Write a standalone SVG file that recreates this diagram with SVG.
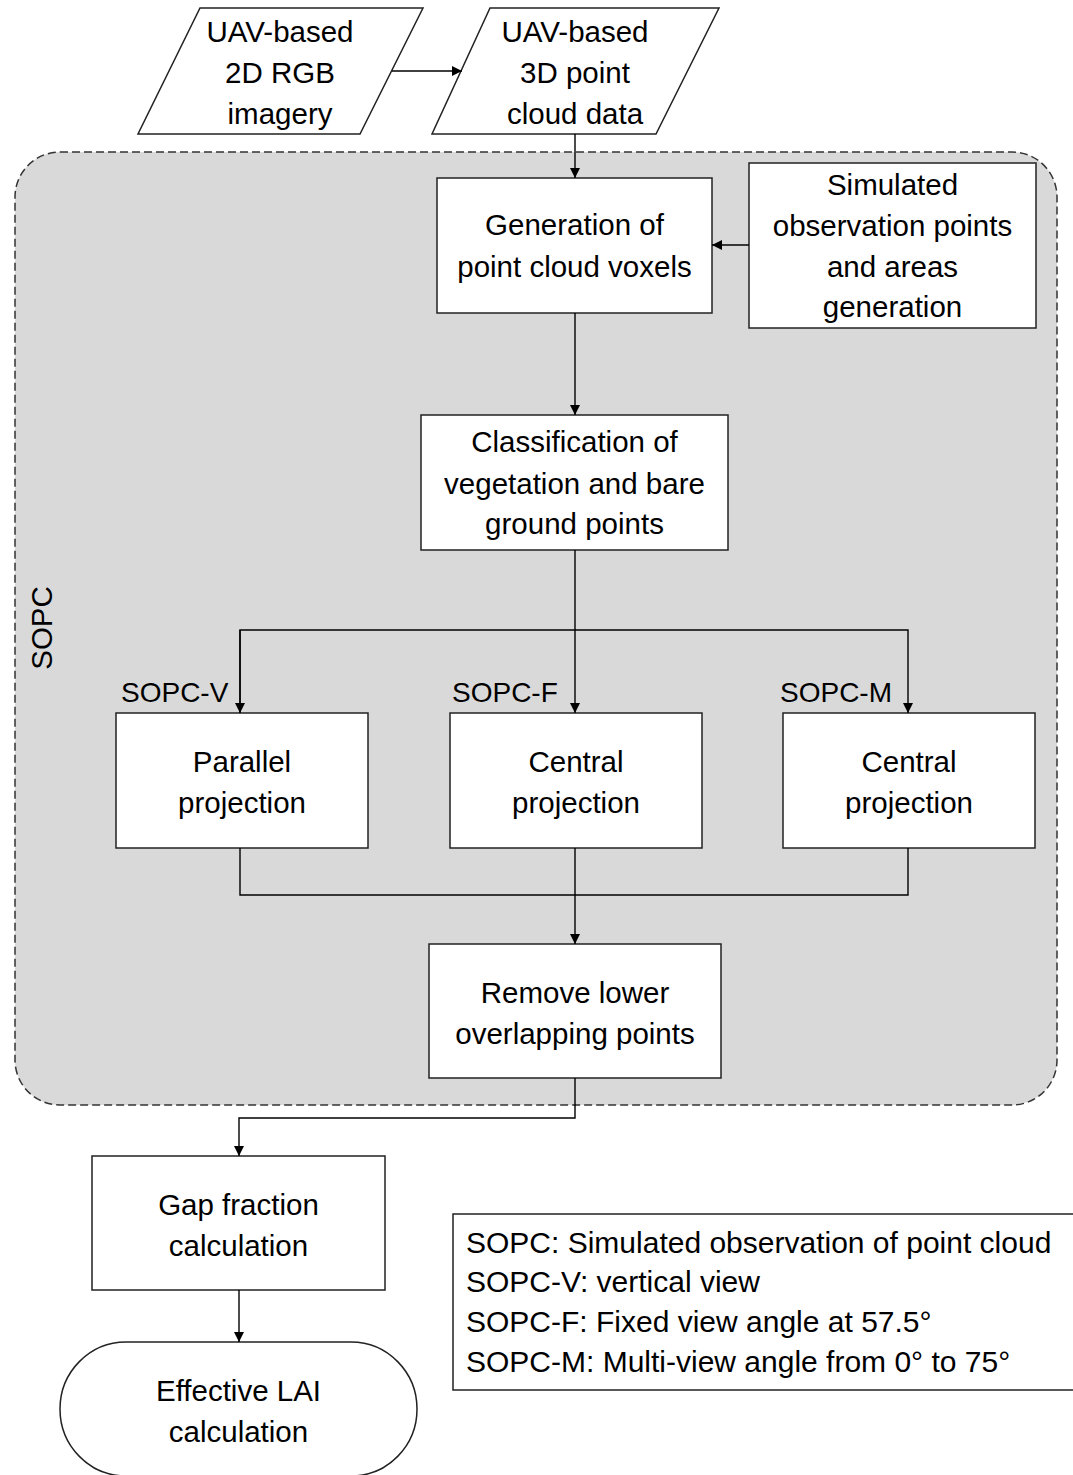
<svg xmlns="http://www.w3.org/2000/svg" width="1073" height="1475" viewBox="0 0 1073 1475">
  <defs>
    <marker id="arrow" viewBox="0 0 10 10" refX="10" refY="5" markerWidth="10" markerHeight="10" markerUnits="userSpaceOnUse" orient="auto">
      <path d="M0,0 L10,5 L0,10 Z" fill="#000"/>
    </marker>
    <style>
      .box { fill: #fff; stroke: #222; stroke-width: 1.5; }
      .lbl { font-family: "Liberation Sans", Arial, sans-serif; font-size: 29.5px; fill: #000; text-anchor: middle; }
      .leg { font-family: "Liberation Sans", Arial, sans-serif; font-size: 30px; fill: #000; }
      .tag { font-family: "Liberation Sans", Arial, sans-serif; font-size: 28px; fill: #000; }
      .con { fill: none; stroke: #000; stroke-width: 1.4; }
    </style>
  </defs>

  <rect width="1073" height="1475" fill="#fff"/>

  <!-- SOPC container -->
  <g id="sopc-region">
    <rect x="15" y="152" width="1042" height="953" rx="45" ry="45" fill="#d9d9d9" stroke="#333" stroke-width="1.5" stroke-dasharray="8,4"/>
    <text class="lbl" transform="translate(52,628) rotate(-90)">SOPC</text>
  </g>

  <!-- Inputs -->
  <g id="rgb-imagery">
    <polygon class="box" points="200,8 423,8 360,134 138,134"/>
    <text class="lbl" x="280" y="42">UAV-based</text>
    <text class="lbl" x="280" y="83">2D RGB</text>
    <text class="lbl" x="280" y="124">imagery</text>
  </g>
  <g id="point-cloud">
    <polygon class="box" points="490,8 719,8 656,134 432,134"/>
    <text class="lbl" x="575" y="42">UAV-based</text>
    <text class="lbl" x="575" y="83">3D point</text>
    <text class="lbl" x="575" y="124">cloud data</text>
  </g>

  <!-- Processing steps -->
  <g id="voxels">
    <rect class="box" x="437" y="178" width="275" height="135"/>
    <text class="lbl" x="574.5" y="235">Generation of</text>
    <text class="lbl" x="574.5" y="277">point cloud voxels</text>
  </g>
  <g id="observation-points">
    <rect class="box" x="749" y="163" width="287" height="165"/>
    <text class="lbl" x="892.5" y="195">Simulated</text>
    <text class="lbl" x="892.5" y="236">observation points</text>
    <text class="lbl" x="892.5" y="277">and areas</text>
    <text class="lbl" x="892.5" y="317">generation</text>
  </g>
  <g id="classification">
    <rect class="box" x="421" y="415" width="307" height="135"/>
    <text class="lbl" x="574.5" y="452">Classification of</text>
    <text class="lbl" x="574.5" y="494">vegetation and bare</text>
    <text class="lbl" x="574.5" y="534">ground points</text>
  </g>

  <g id="sopc-v">
    <text class="tag" x="121" y="702">SOPC-V</text>
    <rect class="box" x="116" y="713" width="252" height="135"/>
    <text class="lbl" x="242" y="772">Parallel</text>
    <text class="lbl" x="242" y="813">projection</text>
  </g>
  <g id="sopc-f">
    <text class="tag" x="452" y="702">SOPC-F</text>
    <rect class="box" x="450" y="713" width="252" height="135"/>
    <text class="lbl" x="576" y="772">Central</text>
    <text class="lbl" x="576" y="813">projection</text>
  </g>
  <g id="sopc-m">
    <text class="tag" x="780" y="702">SOPC-M</text>
    <rect class="box" x="783" y="713" width="252" height="135"/>
    <text class="lbl" x="909" y="772">Central</text>
    <text class="lbl" x="909" y="813">projection</text>
  </g>

  <g id="remove-overlap">
    <rect class="box" x="429" y="944" width="292" height="134"/>
    <text class="lbl" x="575" y="1003">Remove lower</text>
    <text class="lbl" x="575" y="1044">overlapping points</text>
  </g>

  <g id="gap-fraction">
    <rect class="box" x="92" y="1156" width="293" height="134"/>
    <text class="lbl" x="238.5" y="1215">Gap fraction</text>
    <text class="lbl" x="238.5" y="1256">calculation</text>
  </g>

  <g id="effective-lai">
    <rect class="box" x="60" y="1342" width="357" height="134" rx="66" ry="67"/>
    <text class="lbl" x="238.5" y="1401">Effective LAI</text>
    <text class="lbl" x="238.5" y="1442">calculation</text>
  </g>

  <g id="legend">
    <rect x="453" y="1214" width="630" height="176" fill="#fff" stroke="#222" stroke-width="1.5"/>
    <text class="leg" x="466" y="1253">SOPC: Simulated observation of point cloud</text>
    <text class="leg" x="466" y="1292">SOPC-V: vertical view</text>
    <text class="leg" x="466" y="1332">SOPC-F: Fixed view angle at 57.5°</text>
    <text class="leg" x="466" y="1372">SOPC-M: Multi-view angle from 0° to 75°</text>
  </g>

  <!-- Connectors -->
  <g id="connectors">
    <line class="con" x1="392" y1="71" x2="462" y2="71" marker-end="url(#arrow)"/>
    <line class="con" x1="575" y1="134" x2="575" y2="178" marker-end="url(#arrow)"/>
    <line class="con" x1="749" y1="245" x2="712" y2="245" marker-end="url(#arrow)"/>
    <line class="con" x1="575" y1="313" x2="575" y2="415" marker-end="url(#arrow)"/>
    <line class="con" x1="575" y1="550" x2="575" y2="713" marker-end="url(#arrow)"/>
    <polyline class="con" points="240,713 240,630 908,630 908,713" marker-end="url(#arrow)"/>
    <line class="con" x1="240" y1="630" x2="240" y2="713" marker-end="url(#arrow)"/>
    <polyline class="con" points="240,848 240,895 908,895 908,848"/>
    <line class="con" x1="575" y1="848" x2="575" y2="944" marker-end="url(#arrow)"/>
    <polyline class="con" points="575,1078 575,1118 239,1118 239,1156" marker-end="url(#arrow)"/>
    <line class="con" x1="239" y1="1290" x2="239" y2="1342" marker-end="url(#arrow)"/>
  </g>
</svg>
